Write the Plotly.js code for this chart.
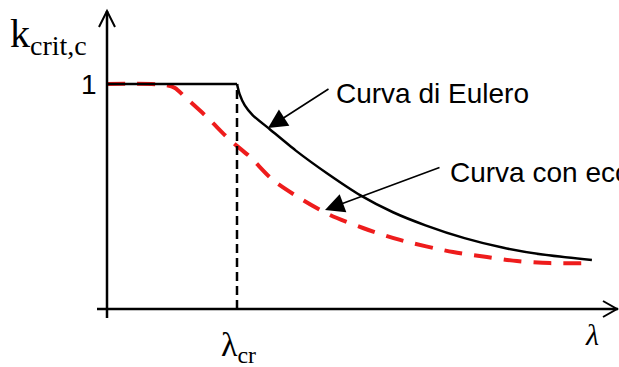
<!DOCTYPE html>
<html>
<head>
<meta charset="utf-8">
<script src="https://cdn.plot.ly/plotly-3.0.1.min.js"></script>
<style>
  html, body { margin: 0; padding: 0; background: #fff; }
  #chart { width: 619px; height: 367px; }
</style>
</head>
<body>
<div id="chart"></div>
<script>
'use strict';

// snellezza relativa (lambda / lambda_cr) e coefficiente k_crit,c
var lambdaCr = 1;

// curva di Eulero: tratto orizzontale + ramo iperbolico
var eulPlateauX = [0, 1];
var eulPlateauY = [1, 1];
var eulCurveX = [1.0, 1.02, 1.06, 1.12, 1.25, 1.45, 1.70, 1.95, 2.20, 2.45, 2.75, 3.05, 3.35, 3.73];
var eulCurveY = [1.0, 0.955, 0.905, 0.862, 0.800, 0.705, 0.600, 0.505, 0.430, 0.372, 0.315, 0.272, 0.242, 0.218];

// curva con eccentricità (tratteggio rosso)
var eccX = [0, 0.446, 0.523, 0.600, 0.769, 0.946, 1.100, 1.277, 1.508, 1.715, 1.969, 2.254, 2.662, 2.923, 3.154, 3.408, 3.715];
var eccY = [1, 0.996, 0.982, 0.942, 0.853, 0.751, 0.676, 0.573, 0.484, 0.418, 0.360, 0.307, 0.253, 0.231, 0.213, 0.204, 0.204];

// etichette
var labelEulero = 'Curva di Eulero';
var labelEcc = 'Curva con eccentricità';
var yTickLabel = '1';

// conversione pixel -> dati (il grafico occupa tutta la finestra)
var W = 619, H = 367;
var X0 = 107, XS = 130;   // pixel di lambda = 0, pixel per unità
var Y0 = 309, YS = 225;   // pixel di k = 0, pixel per unità
function px(p) { return (p - X0) / XS; }
function py(p) { return (Y0 - p) / YS; }

var traces = [
  {
    x: eccX, y: eccY, mode: 'lines', type: 'scatter',
    line: { color: '#ee1c1c', width: 4, dash: '18px,12px', shape: 'spline', smoothing: 0.8 },
    hoverinfo: 'skip'
  },
  {
    x: eulPlateauX, y: eulPlateauY, mode: 'lines', type: 'scatter',
    line: { color: '#000', width: 2.5 }, hoverinfo: 'skip'
  },
  {
    x: eulCurveX, y: eulCurveY, mode: 'lines', type: 'scatter',
    line: { color: '#000', width: 2.5, shape: 'spline', smoothing: 0.6 }, hoverinfo: 'skip'
  },
  {
    x: [lambdaCr, lambdaCr], y: [0, 1], mode: 'lines', type: 'scatter',
    line: { color: '#000', width: 2.5, dash: '9px,5px' }, hoverinfo: 'skip'
  }
];

// assi con frecce aperte
var shapes = [
  { type: 'line', xref: 'x', yref: 'y', x0: px(97), y0: 0, x1: px(618), y1: 0, line: { color: '#000', width: 2.5 } },
  { type: 'line', xref: 'x', yref: 'y', x0: 0, y0: py(318), x1: 0, y1: py(11), line: { color: '#000', width: 2.5 } },
  { type: 'path', xref: 'x', yref: 'y',
    path: 'M' + px(99) + ',' + py(27) + ' L0,' + py(11) + ' L' + px(115) + ',' + py(27),
    line: { color: '#000', width: 2 } },
  { type: 'path', xref: 'x', yref: 'y',
    path: 'M' + px(603) + ',' + py(301) + ' L' + px(617) + ',0 L' + px(603) + ',' + py(317),
    line: { color: '#000', width: 2 } }
];

var sans = { family: 'Arial, Liberation Sans, sans-serif', size: 28, color: '#000' };
var serif = 'Times New Roman, Liberation Serif, serif';

var annotations = [
  { x: px(334), y: py(93), xanchor: 'left', yanchor: 'middle', text: labelEulero, showarrow: false, font: sans },
  { x: px(448), y: py(172), xanchor: 'left', yanchor: 'middle', text: labelEcc, showarrow: false, font: sans },
  { x: px(99), y: 1, xanchor: 'right', yanchor: 'middle', text: yTickLabel, showarrow: false, font: sans },
  { x: px(8), y: py(36), xanchor: 'left', yanchor: 'middle', text: 'k<sub>crit,c</sub>', showarrow: false,
    font: { family: serif, size: 40, color: '#000' } },
  { x: px(219), y: py(347), xanchor: 'left', yanchor: 'middle', text: 'λ<sub>cr</sub>', showarrow: false,
    font: { family: serif, size: 34, color: '#000' } },
  { x: px(592), y: py(334), xanchor: 'center', yanchor: 'middle', text: '<i>λ</i>', showarrow: false,
    font: { family: serif, size: 30, color: '#000' } },
  // frecce verso le curve
  { x: px(268), y: py(128), text: '', showarrow: true, arrowhead: 2, arrowsize: 2.4, arrowwidth: 1.6,
    arrowcolor: '#000', ax: 330 - 268, ay: 88 - 128, standoff: 0 },
  { x: px(325), y: py(210), text: '', showarrow: true, arrowhead: 2, arrowsize: 2.4, arrowwidth: 1.6,
    arrowcolor: '#000', ax: 441 - 325, ay: 167 - 210, standoff: 0 }
];

var layout = {
  width: W, height: H,
  margin: { l: 0, r: 0, t: 0, b: 0 },
  paper_bgcolor: '#fff', plot_bgcolor: '#fff',
  showlegend: false,
  xaxis: { range: [px(0), px(W)], visible: false, fixedrange: true },
  yaxis: { range: [py(H), py(0)], visible: false, fixedrange: true },
  shapes: shapes,
  annotations: annotations
};

Plotly.newPlot('chart', traces, layout, { staticPlot: true, displayModeBar: false });
</script>
</body>
</html>
